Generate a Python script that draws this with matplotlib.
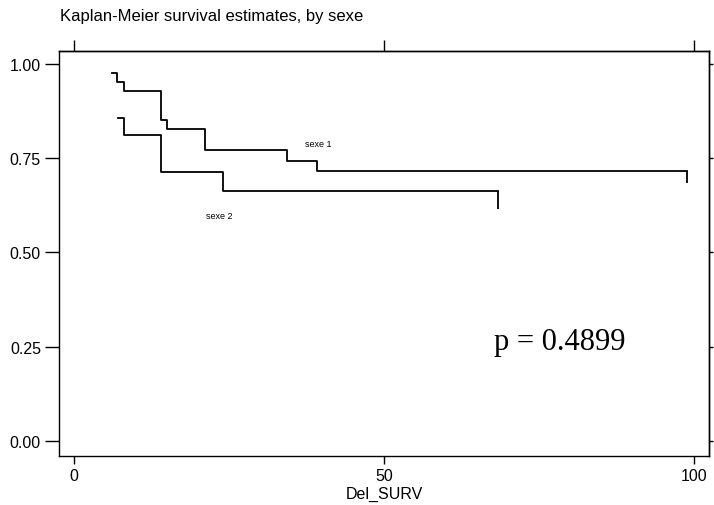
import matplotlib
matplotlib.use("Agg")
import matplotlib.pyplot as plt

matplotlib.rcParams['font.family'] = 'Liberation Sans'

# Kaplan-Meier step data
sexe1_t = [6.1, 7.0, 8.0, 14.0, 15.0, 21.1, 34.3, 39.2, 98.9]
sexe1_s = [0.976, 0.951, 0.927, 0.852, 0.827, 0.772, 0.743, 0.715, 0.715]
sexe1_cens_low = 0.684

sexe2_t = [7.1, 8.0, 14.1, 24.1, 68.3]
sexe2_s = [0.857, 0.810, 0.714, 0.664, 0.664]
sexe2_cens_low = 0.615

x_ticks = [0, 50, 100]
y_ticks = [0.00, 0.25, 0.50, 0.75, 1.00]
p_text = "p = 0.4899"

fig = plt.figure(figsize=(7.14, 5.06), dpi=100)
ax = fig.add_axes([59 / 714, 1 - 457 / 506, 650 / 714, 405 / 506])

ax.step(sexe1_t, sexe1_s, where='post', color='black', linewidth=1.3)
ax.vlines(sexe1_t[-1], sexe1_cens_low, sexe1_s[-1], color='black', linewidth=1.3)
ax.step(sexe2_t, sexe2_s, where='post', color='black', linewidth=1.3)
ax.vlines(sexe2_t[-1], sexe2_cens_low, sexe2_s[-1], color='black', linewidth=1.3)

ax.text(39.4, 0.788, "sexe 1", fontsize=6.5, ha='center', va='center')
ax.text(23.5, 0.598, "sexe 2", fontsize=6.5, ha='center', va='center')
ax.text(78.4, 0.263, p_text, fontsize=22, family='Liberation Serif', ha='center', va='center')

ax.set_xlim(-2.4, 102.4)
ax.set_ylim(-0.04, 1.034)
ax.set_xticks(x_ticks)
ax.set_yticks(y_ticks)
ax.set_yticklabels([f"{v:.2f}" for v in y_ticks])
ax.tick_params(axis='x', length=6, width=1, labelsize=11.5, pad=3)
ax.tick_params(axis='y', length=10, width=1, labelsize=11.5, pad=3)
ax.set_xlabel("Del_SURV", fontsize=11.5, labelpad=2)

# outer ticks on top and right
top = ax.secondary_xaxis('top')
top.set_xticks(x_ticks)
top.tick_params(length=8, width=1, labeltop=False)
right = ax.secondary_yaxis('right')
right.set_yticks(y_ticks)
right.tick_params(length=3, width=1, labelright=False)

for sp in list(ax.spines.values()) + [top.spines['top'], right.spines['right']]:
    sp.set_linewidth(1)

fig.text(60 / 714, 1 - 16 / 506, "Kaplan-Meier survival estimates, by sexe", fontsize=12, ha='left', va='center')

plt.savefig("out.png", dpi=100)
